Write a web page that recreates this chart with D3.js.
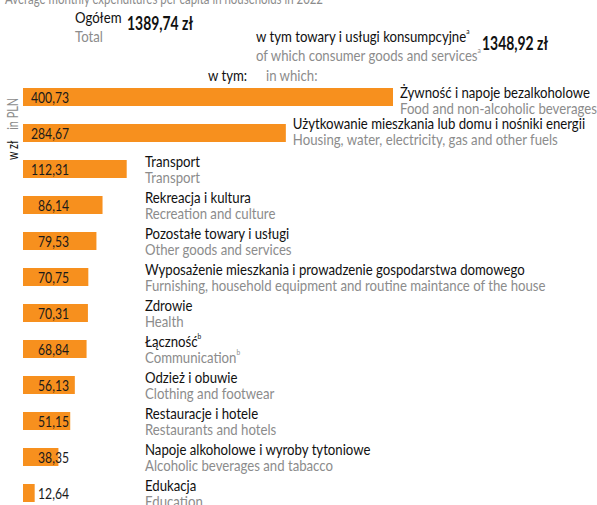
<!DOCTYPE html>
<html>
<head>
<meta charset="utf-8">
<script src="https://cdn.jsdelivr.net/npm/d3@7"></script>
<style>
  body { margin: 0; background: #fff; }
  svg { display: block; }
  text { font-family: Lato, "Liberation Sans", sans-serif; }
</style>
</head>
<body>
<div id="chart"></div>
<script>
// data
var labelsPl = [
  "Żywność i napoje bezalkoholowe",
  "Użytkowanie mieszkania lub domu i nośniki energii",
  "Transport",
  "Rekreacja i kultura",
  "Pozostałe towary i usługi",
  "Wyposażenie mieszkania i prowadzenie gospodarstwa domowego",
  "Zdrowie",
  "Łączność",
  "Odzież i obuwie",
  "Restauracje i hotele",
  "Napoje alkoholowe i wyroby tytoniowe",
  "Edukacja"
];
var labelsEn = [
  "Food and non-alcoholic beverages",
  "Housing, water, electricity, gas and other fuels",
  "Transport",
  "Recreation and culture",
  "Other goods and services",
  "Furnishing, household equipment and routine maintance of the house",
  "Health",
  "Communication",
  "Clothing and footwear",
  "Restaurants and hotels",
  "Alcoholic beverages and tabacco",
  "Education"
];
var values = [400.73, 284.67, 112.31, 86.14, 79.53, 70.75, 70.31, 68.84, 56.13, 51.15, 38.35, 12.64];
var footnotes = ["", "", "", "", "", "", "", "b", "", "", "", ""];
var total = 1389.74;
var consumer = 1348.92;

var width = 597, height = 505;
var orange = "#f7901e", grey = "#8c8c8c";
var fs = 16;

var svg = d3.select("#chart").append("svg")
  .attr("width", width)
  .attr("height", height);

// scales
var x = d3.scaleLinear().domain([0, 400.73]).range([23, 393]);
var y = d3.scaleBand().domain(d3.range(values.length)).range([79, 511]).paddingInner(0.5).paddingOuter(0.25);

var fmt = function (v) { return d3.format(".2f")(v).replace(".", ","); };

// header (title clipped at the very top)
svg.append("text").attr("class", "title").attr("x", 5).attr("y", 4)
  .attr("font-size", fs).attr("fill", grey)
  .text("Average monthly expenditures per capita in households in 2022");

svg.append("text").attr("x", 75).attr("y", 23).attr("font-size", fs).attr("fill", "#111").text("Ogółem");
svg.append("text").attr("x", 75).attr("y", 42).attr("font-size", fs).attr("fill", grey).text("Total");
svg.append("text").attr("class", "num").attr("x", 127).attr("y", 30).attr("font-size", 18).attr("font-weight", "bold").attr("fill", "#111")
  .text(fmt(total) + " zł");

var t1 = svg.append("text").attr("x", 256).attr("y", 42).attr("font-size", fs).attr("fill", "#111");
t1.append("tspan").text("w tym towary i usługi konsumpcyjne");
t1.append("tspan").attr("font-size", 8).attr("dy", -8).text("a");
var t2 = svg.append("text").attr("x", 256).attr("y", 61).attr("font-size", fs).attr("fill", grey);
t2.append("tspan").text("of which consumer goods and services");
t2.append("tspan").attr("font-size", 8).attr("dy", -8).text("a");
svg.append("text").attr("class", "num").attr("x", 482).attr("y", 50).attr("font-size", 18).attr("font-weight", "bold").attr("fill", "#111")
  .text(fmt(consumer) + " zł");

svg.append("text").attr("x", 208).attr("y", 81).attr("font-size", fs).attr("fill", "#111").text("w tym:");
svg.append("text").attr("x", 266).attr("y", 81).attr("font-size", fs).attr("fill", grey).text("in which:");

// rotated unit label
var unit = svg.append("text").attr("transform", "translate(18,160) rotate(-90)").attr("font-size", fs);
unit.append("tspan").attr("fill", "#111").text("w zł");
unit.append("tspan").attr("fill", grey).attr("dx", 16).text("in PLN");

// bars
var rows = svg.selectAll("g.row").data(values).enter().append("g").attr("class", "row");

rows.append("rect")
  .attr("x", x(0))
  .attr("y", function (d, i) { return y(i); })
  .attr("width", function (d) { return x(d) - x(0); })
  .attr("height", y.bandwidth())
  .attr("fill", orange);

rows.append("text")
  .attr("class", "num")
  .attr("x", 69)
  .attr("y", function (d, i) { return y(i) + y.bandwidth() / 2 + 6; })
  .attr("text-anchor", "end")
  .attr("font-size", fs)
  .attr("fill", "#1a1a1a")
  .text(function (d) { return fmt(d); });

// category labels: first two beside their bars, the rest in a column
var labelX = function (i) { return i < 2 ? x(values[i]) + 7 : 145; };
var labelDy = [1, -4, -2, -2, -2, -2, -2, -2, -2, -2, -2, -2];

rows.each(function (d, i) {
  var g = d3.select(this);
  var c = y(i) + y.bandwidth() / 2;
  var pl = g.append("text").attr("x", labelX(i)).attr("y", c + labelDy[i])
    .attr("font-size", fs).attr("fill", "#111");
  pl.append("tspan").text(labelsPl[i]);
  if (footnotes[i]) pl.append("tspan").attr("font-size", 8).attr("dy", -8).text(footnotes[i]);
  var en = g.append("text").attr("x", labelX(i)).attr("y", c + labelDy[i] + 16)
    .attr("font-size", fs).attr("fill", grey);
  en.append("tspan").text(labelsEn[i]);
  if (footnotes[i]) en.append("tspan").attr("font-size", 8).attr("dy", -8).text(footnotes[i]);
});

// the original uses a condensed face; squeeze glyphs to the same width
function squeezeFactor(str, size, weight, target) {
  var probe = svg.append("text").attr("font-size", size).attr("font-weight", weight).text(str);
  var f = target / probe.node().getComputedTextLength();
  probe.remove();
  return f;
}
var k = squeezeFactor("Żywność i napoje bezalkoholowe", fs, "normal", 190);
var kNum = squeezeFactor("400,73", fs, "normal", 38);
var kBold = squeezeFactor("1348,92 zł", 18, "bold", 66);
var kTitle = squeezeFactor("Average monthly expenditures per capita in households in 2022", fs, "normal", 318);

svg.selectAll("text").each(function () {
  var s = d3.select(this);
  var f = s.classed("title") ? kTitle : s.classed("num") ? (s.attr("font-weight") === "bold" ? kBold : kNum) : k;
  s.attr("textLength", this.getComputedTextLength() * f).attr("lengthAdjust", "spacingAndGlyphs");
});
</script>
</body>
</html>
